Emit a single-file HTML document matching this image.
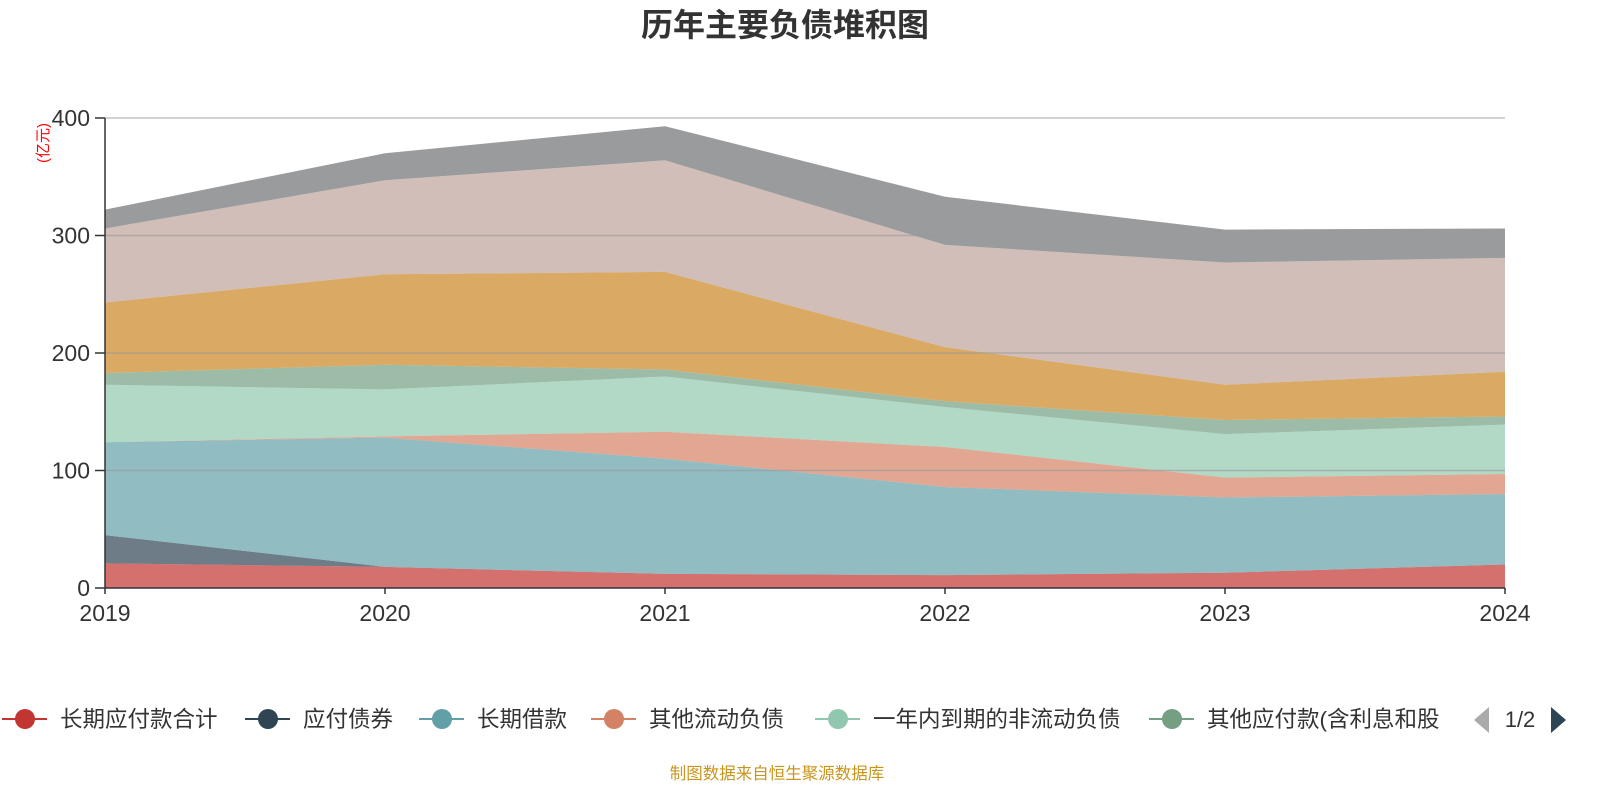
<!DOCTYPE html>
<html><head><meta charset="utf-8">
<style>
html,body{margin:0;padding:0;background:#fff;}
body{width:1600px;height:800px;overflow:hidden;font-family:"Liberation Sans","Noto Sans CJK SC",sans-serif;}
</style></head>
<body>
<svg id="chart" width="1600" height="800" xmlns="http://www.w3.org/2000/svg" font-family="Liberation Sans, Noto Sans CJK SC, sans-serif">
<text x="785" y="36" text-anchor="middle" font-size="32" font-weight="bold" fill="#333">历年主要负债堆积图</text>
<text transform="translate(48,143) rotate(-90)" text-anchor="middle" font-size="15" fill="#ff0000">(亿元)</text>
<g id="areas"></g>
<g id="grid"></g>
<g id="axes"></g>
<g id="legend"></g>
<text x="777" y="779" text-anchor="middle" font-size="16.5" fill="#c8961e">制图数据来自恒生聚源数据库</text>
</svg>
<script>
const years = ["2019","2020","2021","2022","2023","2024"];
const yTicks = [0,100,200,300,400];
const seriesNames = ["长期应付款合计","应付债券","长期借款","其他流动负债","一年内到期的非流动负债","其他应付款(含利息和股","其他2","其他3","其他4"];
const sLongPayable = [21,18,12,11,13,20];
const sBonds = [24,0,0,0,0,0];
const sLongLoans = [79,110,98,75,64,60];
const sOtherCurrent = [0,1,23,34,17,17];
const sDueWithinYear = [49,40,47,34,37,42];
const sOtherPayable = [10,21,6,5,12,7];
const sGold = [60,77,83,46,30,38];
const sPink = [63,80,95,87,104,97];
const sGray = [16,23,29,41,28,25];
const seriesData = [sLongPayable,sBonds,sLongLoans,sOtherCurrent,sDueWithinYear,sOtherPayable,sGold,sPink,sGray];
const colors = ["#c23531","#2f4554","#61a0a8","#d48265","#91c7ae","#749f83","#ca8622","#bda29a","#6e7074"];
const NS="http://www.w3.org/2000/svg";
const x0=105,x1=1505,yB=588,yT=118,yMax=400;
const xs=i=>x0+(x1-x0)*i/(years.length-1);
const ys=v=>yB-(yB-yT)*v/yMax;
function mk(t,a,p){const e=document.createElementNS(NS,t);for(const k in a)e.setAttribute(k,a[k]);p.appendChild(e);return e;}
const areas=document.getElementById('areas');
let base=years.map(()=>0);
seriesData.forEach((s,si)=>{
  const top=base.map((b,i)=>b+s[i]);
  let d="M"+years.map((_,i)=>xs(i)+","+ys(top[i])).join("L");
  for(let i=years.length-1;i>=0;i--) d+="L"+xs(i)+","+ys(base[i]);
  d+="Z";
  const p=mk('path',{d:d,fill:colors[si],'fill-opacity':0.7,stroke:'none'},areas);
  
  
  base=top;
});
const grid=document.getElementById('grid');
const axes=document.getElementById('axes');
yTicks.forEach(v=>{
  if(v>0){const l=mk('line',{x1:x0,x2:x1,y1:ys(v),y2:ys(v),stroke:'#999','stroke-opacity':0.6,'stroke-width':1.5},grid);
  
  }
  const tk=mk('line',{x1:x0-10,x2:x0,y1:ys(v),y2:ys(v),stroke:'#333','stroke-width':1.5},axes);
  
  
  const t=mk('text',{x:x0-15,y:ys(v)+8,'text-anchor':'end','font-size':23,fill:'#333'},axes);
  t.textContent=v;
  
  
});
const ya=mk('line',{x1:x0,x2:x0,y1:yT,y2:yB,stroke:'#333','stroke-width':1.5},axes);


const xa=mk('line',{x1:x0,x2:x1,y1:yB,y2:yB,stroke:'#333','stroke-width':1.5},axes);


years.forEach((y,i)=>{
  const tk=mk('line',{x1:xs(i),x2:xs(i),y1:yB,y2:yB+6,stroke:'#333','stroke-width':1.5},axes);
  
  
  const t=mk('text',{x:xs(i),y:yB+33,'text-anchor':'middle','font-size':23,fill:'#333'},axes);
  t.textContent=y;
  
  
});
const legend=document.getElementById('legend');
const lx=[25,268,442,614,838,1172];
lx.forEach((cx,i)=>{
  const g=mk('g',{},legend);
  
  
  mk('line',{x1:cx-23,x2:cx+22,y1:719,y2:719,stroke:colors[i],'stroke-width':2},g);
  mk('circle',{cx:cx,cy:719,r:10,fill:colors[i]},g);
  const t=mk('text',{x:cx+35,y:727,'font-size':22.5,fill:'#333'},g);
  t.textContent=seriesNames[i];
});
const prev=mk('path',{d:'M1489,707 L1489,733 L1474,720 Z',fill:'#aaa'},legend);


const pg=mk('text',{x:1520,y:727,'text-anchor':'middle','font-size':22,fill:'#333'},legend);
pg.textContent='1/2';


const next=mk('path',{d:'M1551,707 L1551,733 L1566,720 Z',fill:'#2f4554'},legend);


</script>
</body></html>
